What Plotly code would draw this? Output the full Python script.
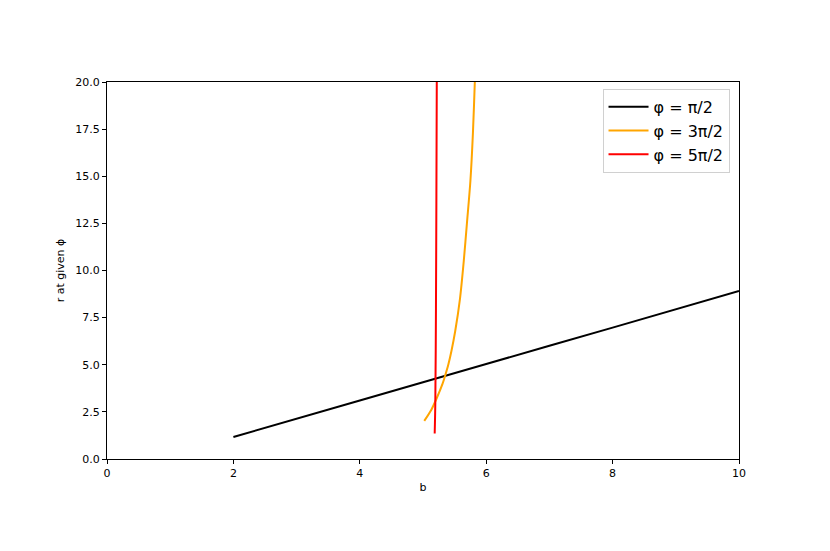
"""Radius at fixed phi as a function of b."""

import plotly.graph_objects as go

b_half = [2.0, 4.0, 6.0, 8.0, 10.0]
r_half = [1.17, 3.10, 5.04, 6.97, 8.91]

b_three = [5.02, 5.13, 5.22, 5.31, 5.35, 5.40, 5.45, 5.51, 5.585, 5.645, 5.695, 5.75, 5.79, 5.82, 5.85]
r_three = [2.02, 2.6, 3.25, 4.0, 4.42, 5.0, 5.73, 6.79, 8.5, 10.5, 12.5, 14.75, 17.3, 20.0, 23.0]

b_five = [5.185, 5.195, 5.205, 5.212, 5.218, 5.225]
r_five = [1.35, 3.0, 8.0, 14.0, 20.0, 25.0]

series = [
    (b_half, r_half, "φ = π/2", "black"),
    (b_three, r_three, "φ = 3π/2", "orange"),
    (b_five, r_five, "φ = 5π/2", "red"),
]

fig = go.Figure()

for xs, ys, label, color in series:
    fig.add_trace(go.Scatter(
        x=xs,
        y=ys,
        mode="lines",
        name=label,
        line={"color": color, "width": 2, "shape": "spline", "smoothing": 0.8},
    ))

axis_style = dict(
    showline=True,
    linecolor="black",
    linewidth=1,
    mirror=True,
    ticks="outside",
    ticklen=4,
    tickcolor="black",
    showgrid=False,
    zeroline=False,
    tickfont={"size": 11, "color": "black"},
)

# the page body adds an 8px offset, so margins are shifted to compensate
fig.update_layout(
    width=830,
    height=551,
    paper_bgcolor="white",
    plot_bgcolor="white",
    font={"family": "DejaVu Sans", "color": "black"},
    margin={"l": 99, "r": 99, "t": 74, "b": 100},
    xaxis=dict(
        axis_style,
        range=[0, 10],
        tickvals=[0, 2, 4, 6, 8, 10],
        title={"text": "b", "font": {"size": 11}, "standoff": 4},
    ),
    yaxis=dict(
        axis_style,
        range=[0, 20],
        tickvals=[0, 2.5, 5, 7.5, 10, 12.5, 15, 17.5, 20],
        tickformat=".1f",
        title={"text": "r at given ϕ", "font": {"size": 11}, "standoff": 8},
    ),
    legend={
        "x": 0.985, "y": 0.982,
        "xanchor": "right", "yanchor": "top",
        "font": {"size": 16},
        "bordercolor": "#d0d0d0",
        "borderwidth": 1,
        "bgcolor": "rgba(255,255,255,0.8)",
        "tracegroupgap": 0,
        "itemwidth": 40,
    },
)

fig.write_html("out.html")
